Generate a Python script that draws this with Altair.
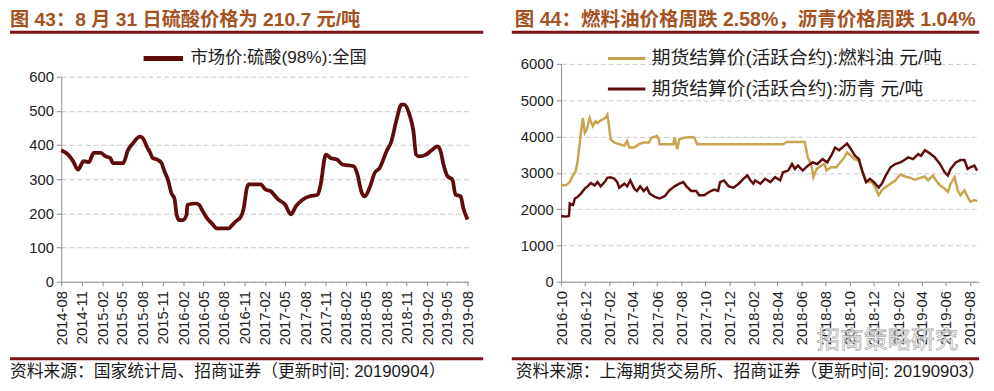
import altair as alt
import pandas as pd

# ---------------- data: left (sulphuric acid 98%, national market price) ----------------
acid_dates = ["2014-08-01","2014-09-01","2014-09-23","2014-10-15","2014-11-10","2014-12-03","2014-12-25",
              "2015-01-25","2015-02-17","2015-03-09","2015-03-22","2015-05-06","2015-05-28","2015-06-19",
              "2015-07-20","2015-08-03","2015-08-21","2015-09-03","2015-09-16","2015-10-08","2015-10-26",
              "2015-11-09","2015-11-22","2015-12-10","2015-12-23","2016-01-02","2016-01-15","2016-01-28",
              "2016-02-15","2016-02-19","2016-03-30","2016-04-12","2016-04-25","2016-05-13","2016-06-09",
              "2016-07-01","2016-08-23","2016-09-06","2016-09-24","2016-10-16","2016-10-29","2016-11-12",
              "2016-11-21","2017-01-13","2017-02-04","2017-02-27","2017-04-02","2017-05-03","2017-05-29",
              "2017-06-21","2017-07-22","2017-08-22","2017-09-27","2017-10-10","2017-11-02","2017-11-24",
              "2017-12-24","2018-01-16","2018-03-08","2018-03-22","2018-04-13","2018-04-26","2018-05-18",
              "2018-06-10","2018-07-02","2018-08-02","2018-08-24","2018-09-16","2018-10-08","2018-10-21",
              "2018-11-13","2018-12-01","2018-12-13","2018-12-26","2019-01-27","2019-02-19","2019-03-20",
              "2019-04-02","2019-04-15","2019-05-03","2019-05-25","2019-06-08","2019-07-01","2019-07-13",
              "2019-08-01"]
acid_values = [385,372,353,328,353,350,377,
               377,367,362,347,347,385,405,
               425,420,395,380,362,357,347,
               321,302,258,243,195,180,180,
               195,225,229,225,210,190,170,
               156,156,165,177,190,215,273,
               285,285,270,265,241,226,197,
               221,241,250,255,285,372,362,
               357,343,338,319,260,250,275,
               319,333,382,411,474,518,518,
               489,440,372,367,372,384,396,
               382,343,309,299,255,250,216,
               182]
acid_series = "市场价:硫酸(98%):全国"

# ---------------- data: right (futures settlement prices) ----------------
fuel_dates = ["2016-10-01","2016-10-13","2016-10-23","2016-10-31","2016-11-07","2016-11-12","2016-11-17",
              "2016-11-20","2016-11-25","2016-11-30","2016-12-05","2016-12-10","2016-12-12","2016-12-20",
              "2016-12-27","2017-01-01","2017-01-09","2017-01-21","2017-01-26","2017-01-31","2017-02-03",
              "2017-02-13","2017-02-25","2017-03-10","2017-03-17","2017-03-22","2017-04-04","2017-04-16",
              "2017-04-28","2017-05-11","2017-05-18","2017-05-31","2017-06-05","2017-06-07","2017-07-12",
              "2017-07-15","2017-07-22","2017-07-27","2017-08-09","2017-08-26","2017-09-03","2017-09-10",
              "2018-04-15","2018-04-25","2018-06-09","2018-06-17","2018-06-26","2018-07-01","2018-07-09",
              "2018-07-21","2018-07-29","2018-08-03","2018-08-15","2018-08-28","2018-09-04","2018-09-17",
              "2018-09-24","2018-10-04","2018-10-12","2018-10-24","2018-11-06","2018-11-13","2018-11-26",
              "2018-12-06","2018-12-13","2018-12-21","2018-12-31","2019-01-12","2019-01-24","2019-02-06",
              "2019-02-18","2019-03-03","2019-03-15","2019-03-28","2019-04-09","2019-04-17","2019-04-29",
              "2019-05-07","2019-05-17","2019-05-29","2019-06-06","2019-06-13","2019-06-23","2019-07-01",
              "2019-07-08","2019-07-18","2019-07-26","2019-08-02","2019-08-12","2019-08-19"]
fuel_values = [2655,2655,2745,2927,3044,3334,3788,
               4103,4511,4103,4195,4421,4511,4285,
               4421,4375,4440,4511,4603,4240,3924,
               3833,3788,3742,3878,3697,3697,3788,
               3833,3833,3968,4013,3924,3788,3788,
               3968,3652,3924,3968,3986,3968,3788,
               3788,3850,3850,3424,3198,2880,3107,
               3198,3243,3062,3152,3152,3243,3424,
               3560,3470,3379,3334,2927,2745,2745,
               2564,2383,2519,2610,2700,2790,2953,
               2900,2862,2808,2862,2900,2790,2927,
               2790,2655,2564,2473,2700,2880,2519,
               2383,2519,2338,2202,2247,2220]

asph_dates = ["2016-10-01","2016-10-13","2016-10-21","2016-10-23","2016-10-31","2016-11-05","2016-11-12",
              "2016-11-20","2016-11-30","2016-12-07","2016-12-15","2016-12-25","2017-01-01","2017-01-09",
              "2017-01-19","2017-01-26","2017-02-03","2017-02-13","2017-02-20","2017-02-25","2017-03-10",
              "2017-03-17","2017-03-25","2017-04-04","2017-04-11","2017-04-19","2017-04-28","2017-05-06",
              "2017-05-13","2017-05-26","2017-06-07","2017-06-20","2017-07-02","2017-07-15","2017-07-27",
              "2017-08-06","2017-08-14","2017-08-26","2017-09-08","2017-09-15","2017-09-28","2017-10-10",
              "2017-10-23","2017-11-02","2017-11-07","2017-11-17","2017-11-29","2017-12-11","2017-12-24",
              "2018-01-05","2018-01-15","2018-01-23","2018-01-30","2018-02-04","2018-02-17","2018-03-01",
              "2018-03-14","2018-03-26","2018-04-08","2018-04-15","2018-04-28","2018-05-08","2018-05-15",
              "2018-05-23","2018-06-04","2018-06-17","2018-06-29","2018-07-11","2018-07-24","2018-08-05",
              "2018-08-15","2018-08-25","2018-09-04","2018-09-17","2018-09-24","2018-10-04","2018-10-14",
              "2018-10-24","2018-11-01","2018-11-11","2018-11-21","2018-12-01","2018-12-13","2018-12-21",
              "2018-12-31","2019-01-12","2019-01-24","2019-02-06","2019-02-13","2019-02-26","2019-03-10",
              "2019-03-23","2019-03-30","2019-04-09","2019-04-22","2019-05-04","2019-05-17","2019-05-29",
              "2019-06-06","2019-06-13","2019-06-26","2019-07-08","2019-07-18","2019-07-26","2019-08-02",
              "2019-08-12","2019-08-19"]
asph_values = [1812,1794,1812,2157,2112,2293,2338,
               2428,2564,2628,2718,2655,2745,2628,
               2745,2862,2880,2835,2745,2592,2700,
               2628,2790,2564,2500,2628,2500,2592,
               2428,2338,2293,2357,2519,2628,2700,
               2745,2628,2500,2500,2383,2383,2473,
               2537,2500,2745,2790,2628,2592,2700,
               2835,2927,2790,2700,2790,2700,2835,
               2745,2880,2790,3016,3062,3243,3107,
               3198,3062,3198,3288,3243,3379,3288,
               3470,3696,3623,3742,3806,3651,3470,
               3379,3062,2745,2835,2745,2592,2700,
               2927,3152,3243,3288,3334,3424,3379,
               3515,3470,3623,3533,3424,3243,3016,
               2927,3107,3288,3351,3351,3107,3152,
               3198,3062]
fuel_series = "期货结算价(活跃合约):燃料油 元/吨"
asph_series = "期货结算价(活跃合约):沥青 元/吨"

title_left = "图 43：8 月 31 日硫酸价格为 210.7 元/吨"
title_right = "图 44：燃料油价格周跌 2.58%，沥青价格周跌 1.04%"
source_left = "资料来源：国家统计局、招商证券（更新时间: 20190904）"
source_right = "资料来源：上海期货交易所、招商证券（更新时间: 20190903）"
watermark = "招商策略研究"

left_ticks = [(2014, 8), (2014, 11), (2015, 2), (2015, 5), (2015, 8), (2015, 11), (2016, 2), (2016, 5),
              (2016, 8), (2016, 11), (2017, 2), (2017, 5), (2017, 8), (2017, 11), (2018, 2), (2018, 5),
              (2018, 8), (2018, 11), (2019, 2), (2019, 5), (2019, 8)]
right_ticks = [(2016, 10), (2016, 12), (2017, 2), (2017, 4), (2017, 6), (2017, 8), (2017, 10), (2017, 12),
               (2018, 2), (2018, 4), (2018, 6), (2018, 8), (2018, 10), (2018, 12), (2019, 2), (2019, 4),
               (2019, 6), (2019, 8)]

# ---------------- styling ----------------
LATIN = "Liberation Sans"
CJK = "Liberation Sans, Noto Sans CJK SC"
TITLE_COLOR = "#A4521F"
RULE_COLOR = "#7A1315"
DARK_RED = "#600C0C"
GOLD = "#C9A44F"
AXIS_GRAY = "#8C8C8C"
GRID_GRAY = "#C8C8C8"
VIEW_H = 221


def dt(y, m, d=1):
    return alt.DateTime(year=y, month=m, date=d)


def text_layer(txt, x, y, size, color, bold=False):
    return alt.Chart(pd.DataFrame({"t": [txt]})).mark_text(
        align="left", baseline="middle", font=CJK, fontSize=size, color=color,
        fontWeight="bold" if bold else "normal"
    ).encode(text="t:N", x=alt.value(x), y=alt.value(y))


def rule_layer(x1, x2, y):
    return alt.Chart(pd.DataFrame({"a": [0]})).mark_rule(color=RULE_COLOR, strokeWidth=3).encode(
        x=alt.value(x1), x2=alt.value(x2), y=alt.value(y))


def y_axis(vals):
    return alt.Axis(values=vals, format="d", title=None, grid=True, gridDash=[5, 3], gridColor=GRID_GRAY,
                    domainColor=AXIS_GRAY, tickColor=AXIS_GRAY, tickSize=5, labelPadding=3,
                    labelFont=LATIN, labelFontSize=15, labelColor="#222222")


def x_axis(ticks):
    return alt.Axis(values=[dt(y, m) for y, m in ticks], format="%Y-%m", title=None, grid=False,
                    labelAngle=270, labelOverlap=False, labelFlush=False, domainColor=AXIS_GRAY,
                    tickColor=AXIS_GRAY, tickSize=4, labelPadding=5, labelFont=LATIN,
                    labelFontSize=15, labelColor="#222222")


# ---------------- left panel ----------------
acid_df = pd.DataFrame({"date": pd.to_datetime(acid_dates), "value": acid_values, "series": acid_series})

acid_line = alt.Chart(acid_df).mark_line(strokeWidth=3.8, interpolate="monotone").encode(
    x=alt.X("date:T", axis=x_axis(left_ticks),
            scale=alt.Scale(domain=[dt(2014, 8, 1), dt(2019, 8, 5)], nice=False)),
    y=alt.Y("value:Q", axis=y_axis(list(range(0, 601, 100))),
            scale=alt.Scale(domain=[0, 600], nice=False, range=[VIEW_H, 13])),
    color=alt.Color("series:N", scale=alt.Scale(domain=[acid_series], range=[DARK_RED]),
                    legend=alt.Legend(orient="none", legendX=81, legendY=-28, title=None,
                                      symbolType="stroke", symbolSize=1600, symbolStrokeWidth=5,
                                      labelFont=CJK, labelFontSize=17.5, labelColor="#222222",
                                      labelOffset=5, labelLimit=500, padding=0)),
)

left = alt.layer(
    text_layer(title_left, -52, -44, 19.5, TITLE_COLOR, bold=True),
    rule_layer(-52, 428, -32),
    rule_layer(-52, 428, 299),
    text_layer(source_left, -52, 313, 17, "#1A1A1A"),
    acid_line,
).properties(width=413, height=VIEW_H)

# ---------------- right panel ----------------
fut_df = pd.concat([
    pd.DataFrame({"date": pd.to_datetime(fuel_dates), "value": fuel_values, "series": fuel_series}),
    pd.DataFrame({"date": pd.to_datetime(asph_dates), "value": asph_values, "series": asph_series}),
], ignore_index=True)

fut_lines = alt.Chart(fut_df).mark_line(strokeWidth=2.5).encode(
    x=alt.X("date:T", axis=x_axis(right_ticks),
            scale=alt.Scale(domain=[dt(2016, 10, 1), dt(2019, 8, 24)], nice=False)),
    y=alt.Y("value:Q", axis=y_axis(list(range(0, 6001, 1000))),
            scale=alt.Scale(domain=[0, 6000], nice=False)),
    color=alt.Color("series:N", sort=[fuel_series, asph_series],
                    scale=alt.Scale(domain=[fuel_series, asph_series], range=[GOLD, DARK_RED]),
                    legend=alt.Legend(orient="none", legendX=46, legendY=-26, title=None,
                                      direction="vertical", symbolType="stroke", symbolSize=1444,
                                      symbolStrokeWidth=3, rowPadding=-1,
                                      labelFont=CJK, labelFontSize=19, labelColor="#222222",
                                      labelOffset=5, labelLimit=500, padding=0)),
)

right = alt.layer(
    text_layer(title_right, -47, -44, 19.8, TITLE_COLOR, bold=True),
    rule_layer(-50, 424, -32),
    rule_layer(-50, 424, 299),
    text_layer(source_right, -46, 313, 17, "#1A1A1A"),
    alt.Chart(pd.DataFrame({"t": [watermark]})).mark_text(
        align="left", baseline="middle", font=CJK, fontSize=24, color="#FFFFFF",
        stroke="#AAAAAA", strokeWidth=0.8, opacity=0.9
    ).encode(text="t:N", x=alt.value(259), y=alt.value(281)),
    fut_lines,
).properties(width=424, height=VIEW_H)

chart = alt.hconcat(left, right, spacing=25).resolve_scale(color="independent").properties(
    padding=0
).configure_view(stroke=None)

chart.save("out.html", embed_options={"renderer": "svg", "actions": False})
